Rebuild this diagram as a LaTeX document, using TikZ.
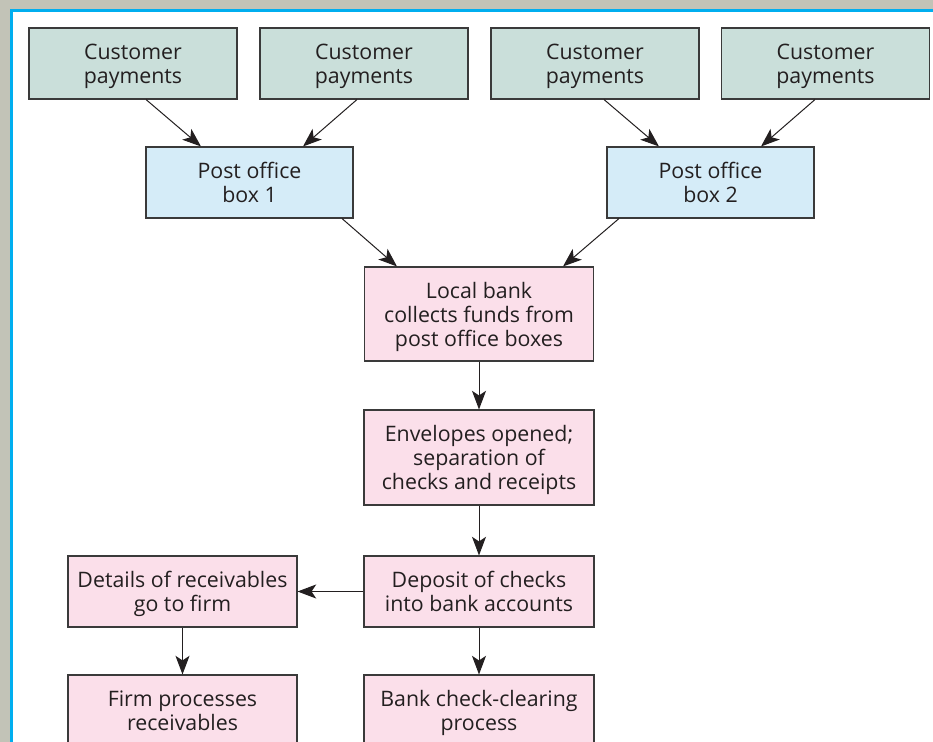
\documentclass[tikz,border=0pt]{standalone}
\usepackage{fontspec}
\setmainfont{Open Sans}
\usetikzlibrary{arrows.meta,positioning,calc}
\definecolor{bggray}{HTML}{C2C3B7}
\definecolor{frameblue}{HTML}{00AEEF}
\definecolor{edge}{HTML}{3A3A3A}
\definecolor{txt}{HTML}{231F20}
\definecolor{cust}{HTML}{CADFDA}
\definecolor{pobox}{HTML}{D5ECF8}
\definecolor{pink}{HTML}{FBDFEA}

\begin{document}
\begin{tikzpicture}[
  x=0.75pt, y=-0.75pt,
  >={Stealth[length=14pt, width=10.5pt, inset=3.5pt]},
  box/.style={draw=edge, fill=#1, line width=0.8pt, minimum height=53.25pt, align=center, inner sep=0pt, text depth=-2.5pt, text=txt, font=\fontsize{16}{18}\selectfont},
  arr/.style={->, line width=0.75pt, color=txt},
]
\useasboundingbox (0,0) rectangle (933,742);
\clip (0,0) rectangle (933,742);

% frame
\fill[bggray] (0,0) rectangle (933,742);
\fill[white] (11.5,10.75) rectangle (950,760);
\draw[frameblue, line width=1.9pt] (11.5,760) -- (11.5,10.75) -- (950,10.75);

% top row
\node[box=cust, minimum width=156pt] (C1) at (133,63.5) {Customer\\payments};
\node[box=cust, minimum width=156pt] (C2) at (364,63.5) {Customer\\payments};
\node[box=cust, minimum width=156pt] (C3) at (595,63.5) {Customer\\payments};
\node[box=cust, minimum width=156pt] (C4) at (825.5,63.5) {Customer\\payments};

\node[box=pobox, minimum width=155.25pt] (PO1) at (249.5,182.5) {Post office\\box 1};
\node[box=pobox, minimum width=155.25pt] (PO2) at (710.5,182.5) {Post office\\box 2};

% bank column
\node[box=pink, minimum width=172pt, minimum height=70.5pt] (LB) at (479,314) {Local bank\\collects funds from\\post office boxes};
\node[box=pink, minimum width=172.5pt, minimum height=71.25pt] (ENV) at (479,457.5) {Envelopes opened;\\separation of\\checks and receipts};
\node[box=pink, minimum width=172.5pt] (DEP) at (479,591.5) {Deposit of checks\\into bank accounts};
\node[box=pink, minimum width=172.5pt] (CLR) at (479,710.5) {Bank check-clearing\\process};

% firm column
\node[box=pink, minimum width=171.75pt] (DET) at (182.5,591.5) {Details of receivables\\go to firm};
\node[box=pink, minimum width=171.75pt] (FIRM) at (182.5,710.5) {Firm processes\\receivables};

\draw[arr] ($(C1.south)+(13,0)$) -- ($(PO1.north)+(-48.5,0)$);
\draw[arr] ($(C2.south)+(-7,0)$) -- ($(PO1.north)+(53.5,0)$);
\draw[arr] ($(C3.south)+(9,0)$) -- ($(PO2.north)+(-51.5,0)$);
\draw[arr] ($(C4.south)+(-10.5,0)$) -- ($(PO2.north)+(50.5,0)$);
\draw[arr] ($(PO1.south)+(92.5,0)$) -- ($(LB.north)+(-82,0)$);
\draw[arr] ($(PO2.south)+(-91.5,0)$) -- ($(LB.north)+(84,0)$);

\draw[arr] (LB.south) -- (ENV.north);
\draw[arr] (ENV.south) -- (DEP.north);
\draw[arr] (DEP.west) -- (DET.east);
\draw[arr] (DEP.south) -- (CLR.north);
\draw[arr] (DET.south) -- (FIRM.north);

\end{tikzpicture}
\end{document}
